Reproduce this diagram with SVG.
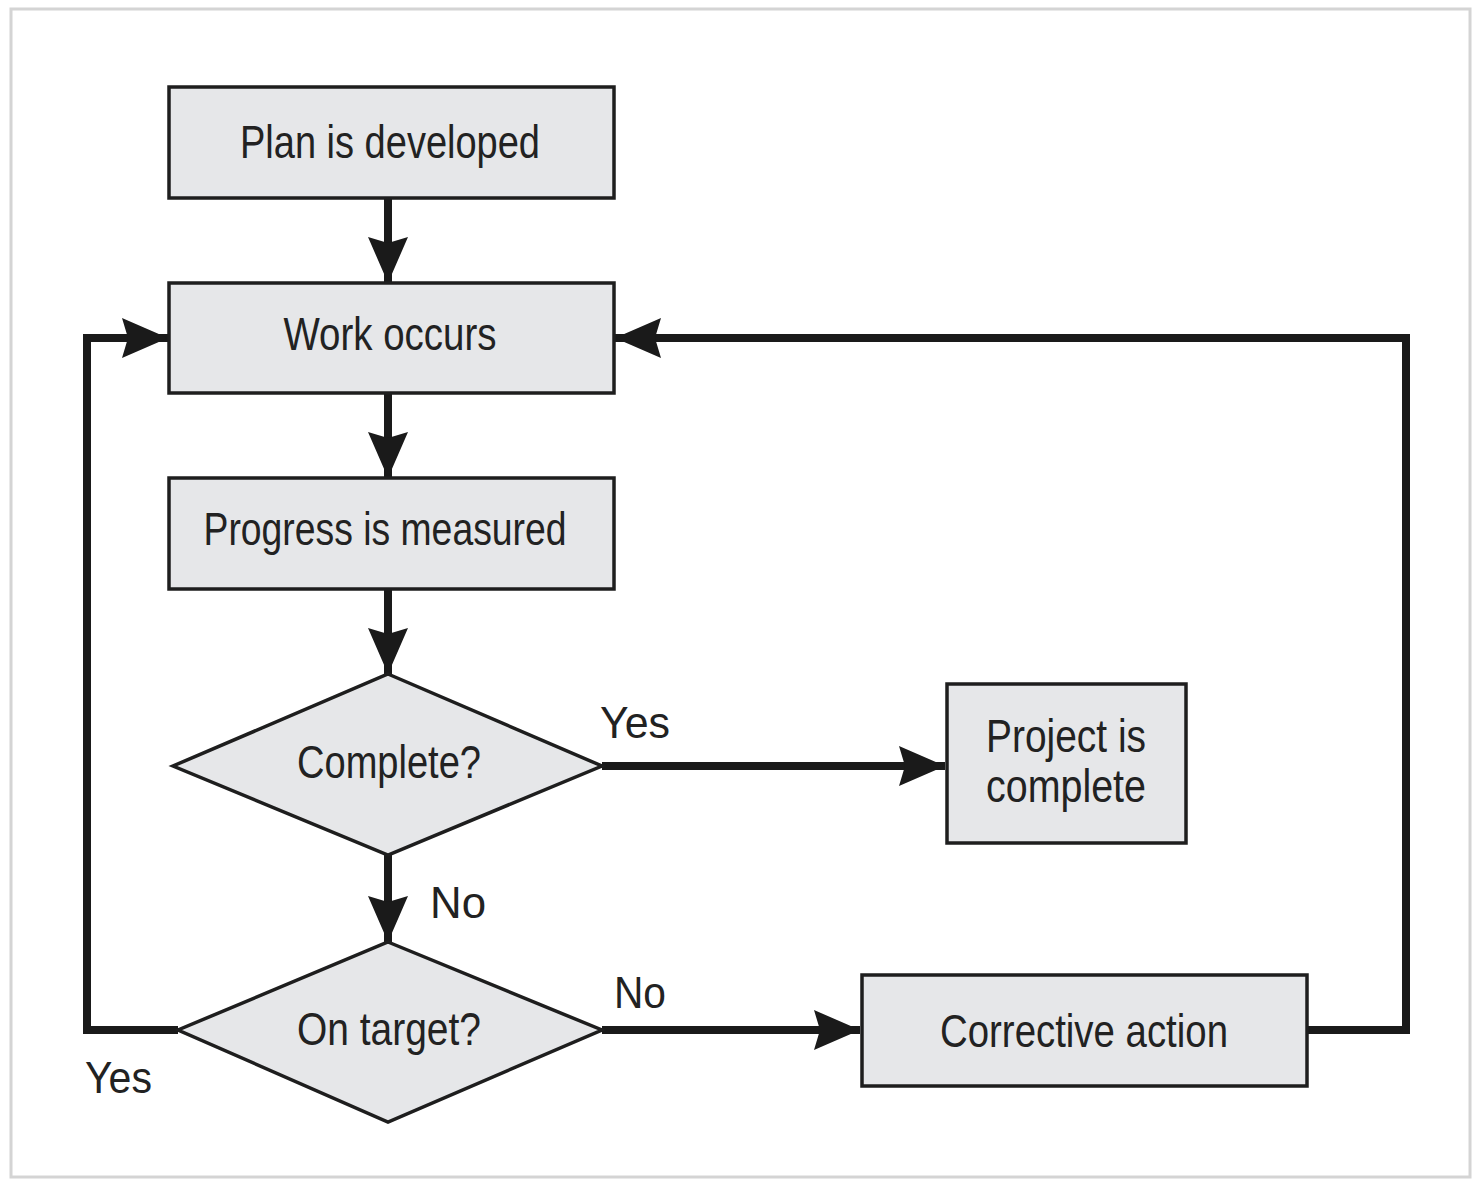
<svg xmlns="http://www.w3.org/2000/svg" width="1474" height="1181" viewBox="0 0 1474 1181">
<defs>
<style>
.box{fill:#e6e7e9;stroke:#1e1e1e;stroke-width:3.5}
.lbl{font-family:"Liberation Sans",Arial,sans-serif;font-size:46px;fill:#222;text-anchor:middle}
.elbl{font-family:"Liberation Sans",Arial,sans-serif;font-size:44px;fill:#222}
.con{fill:none;stroke:#1a1a1a;stroke-width:8;marker-end:url(#ah)}
.con2{fill:none;stroke:#1a1a1a;stroke-width:8}
</style>
<marker id="ah" markerUnits="userSpaceOnUse" markerWidth="48" markerHeight="42" refX="46" refY="21" orient="auto" viewBox="0 0 48 42">
<path d="M0,1 L46,21 L0,41 L6,21 z" fill="#1a1a1a"/>
</marker>
</defs>
<rect x="0" y="0" width="1474" height="1181" fill="#ffffff"/>
<rect x="11" y="9" width="1459" height="1168" fill="#ffffff" stroke="#d4d4d4" stroke-width="3"/>

<g id="connectors">
<path class="con" d="M388,198 L388,283"/>
<path class="con" d="M388,393 L388,478"/>
<path class="con" d="M388,589 L388,674"/>
<path class="con" d="M602,766 L945,766"/>
<path class="con" d="M388,855 L388,942"/>
<path class="con" d="M602,1030 L860,1030"/>
<path class="con" d="M1307,1030 L1406,1030 L1406,338 L615,338"/>
<path class="con" d="M178,1030 L87,1030 L87,338 L168,338"/>
<text class="elbl" x="600" y="738" textLength="70" lengthAdjust="spacingAndGlyphs">Yes</text>
<text class="elbl" x="430" y="918" textLength="56" lengthAdjust="spacingAndGlyphs">No</text>
<text class="elbl" x="614" y="1008" textLength="52" lengthAdjust="spacingAndGlyphs">No</text>
<text class="elbl" x="85" y="1093" textLength="67" lengthAdjust="spacingAndGlyphs">Yes</text>
</g>

<g id="plan">
<rect class="box" x="169" y="87" width="445" height="111"/>
<text class="lbl" x="390" y="158" textLength="300" lengthAdjust="spacingAndGlyphs">Plan is developed</text>
</g>
<g id="work">
<rect class="box" x="169" y="283" width="445" height="110"/>
<text class="lbl" x="390" y="350" textLength="213" lengthAdjust="spacingAndGlyphs">Work occurs</text>
</g>
<g id="progress">
<rect class="box" x="169" y="478" width="445" height="111"/>
<text class="lbl" x="385" y="545" textLength="363" lengthAdjust="spacingAndGlyphs">Progress is measured</text>
</g>
<g id="complete">
<polygon class="box" points="388,674 602,766 388,855 173,766"/>
<text class="lbl" x="389" y="778" textLength="184" lengthAdjust="spacingAndGlyphs">Complete?</text>
</g>
<g id="ontarget">
<polygon class="box" points="388,942 602,1030 388,1122 178,1030"/>
<text class="lbl" x="389" y="1045" textLength="184" lengthAdjust="spacingAndGlyphs">On target?</text>
</g>
<g id="projectcomplete">
<rect class="box" x="947" y="684" width="239" height="159"/>
<text class="lbl" x="1066" y="752" textLength="160" lengthAdjust="spacingAndGlyphs">Project is</text>
<text class="lbl" x="1066" y="802" textLength="160" lengthAdjust="spacingAndGlyphs">complete</text>
</g>
<g id="corrective">
<rect class="box" x="862" y="975" width="445" height="111"/>
<text class="lbl" x="1084" y="1047" textLength="288" lengthAdjust="spacingAndGlyphs">Corrective action</text>
</g>
</svg>
